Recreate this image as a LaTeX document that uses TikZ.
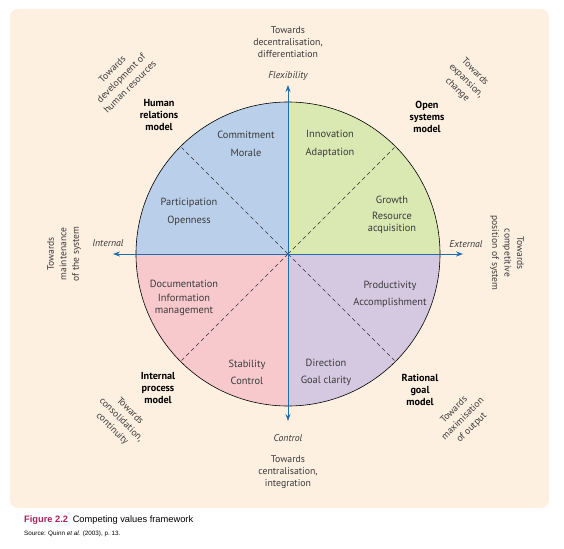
\documentclass[tikz,border=0pt]{standalone}
\usepackage{fontspec}
\setmainfont{PT Sans}
\newfontfamily\capfont{Liberation Sans}
\usetikzlibrary{arrows.meta}
\definecolor{panel}{HTML}{FDF0E1}
\definecolor{qblue}{HTML}{B9CFEA}
\definecolor{qgreen}{HTML}{DAE8B2}
\definecolor{qpink}{HTML}{F7C9CD}
\definecolor{qpurple}{HTML}{D5C9E2}
\definecolor{axisblue}{HTML}{1E6DAE}
\definecolor{figred}{HTML}{A8235F}
\definecolor{txt}{HTML}{3A3A3A}
\tikzset{
  lab/.style={font=\fontsize{10.4}{12.5}\selectfont, text=txt, align=center, inner sep=0pt},
  lab2/.style={font=\fontsize{10.4}{18}\selectfont, text=txt, align=center, inner sep=0pt},
  axlab/.style={font=\fontsize{9.8}{11}\selectfont\itshape, text=txt, inner sep=0pt},
  dir/.style={font=\fontsize{9.8}{12}\selectfont, text=txt, align=center, inner sep=0pt},
  rdir/.style={font=\fontsize{9.6}{12.5}\selectfont, text=txt, align=center, inner sep=0pt},
  model/.style={font=\fontsize{10.2}{12}\selectfont\bfseries, text=black, align=center, inner sep=0pt},
  axisline/.style={draw=axisblue, line width=0.9pt, {Stealth[length=7pt,width=5pt]}-{Stealth[length=7pt,width=5pt]}},
  divider/.style={draw=black!80, line width=0.6pt, dash pattern=on 4pt off 3pt}
}
\begin{document}
\begin{tikzpicture}[x=1pt,y=-1pt]
\useasboundingbox (0,0) rectangle (564,548);
\fill[white] (0,0) rectangle (564,548);
\fill[panel, rounded corners=8pt] (10,9) rectangle (549,508);
% quadrants
\coordinate (c) at (288,254);
\begin{scope}
\clip (c) circle (152);
\fill[qblue] (c) rectangle ++(-160,-160);
\fill[qgreen] (c) rectangle ++(160,-160);
\fill[qpink] (c) rectangle ++(-160,160);
\fill[qpurple] (c) rectangle ++(160,160);
\end{scope}
\draw[black, line width=0.6pt] (c) circle (152);
% dashed dividers
\coordinate (dTL) at (181.5,147.5);
\coordinate (dTR) at (394.5,147.5);
\coordinate (dBL) at (181.5,360.5);
\coordinate (dBR) at (394.5,360.5);
\draw[divider] (c) -- (dTL);
\draw[divider] (c) -- (dTR);
\draw[divider] (c) -- (dBL);
\draw[divider] (c) -- (dBR);
% axes
\coordinate (aT) at (288,85);
\coordinate (aB) at (288,421);
\coordinate (aL) at (113,254);
\coordinate (aR) at (463,254);
\draw[axisline] (aB) -- (aT);
\draw[axisline] (aL) -- (aR);
% axis labels
\node[axlab] (flex) at (288,76) {Flexibility};
\node[axlab] (ctrl) at (288,438) {Control};
\node[axlab] (int) at (108,243) {Internal};
\node[axlab] (ext) at (466,244) {External};
% directions
\node[dir] (dTop) at (288,42) {Towards\\decentralisation,\\differentiation};
\node[dir] (dBot) at (288,472) {Towards\\centralisation,\\integration};
\node[rdir, rotate=90] (dLeft) at (64,254) {Towards\\maintenance\\of the system};
\node[rdir, rotate=-90] (dRight) at (507,253) {Towards\\competitive\\position of system};
\node[rdir, rotate=45] (dTL2) at (121,78) {Towards\\development of\\human resources};
\node[rdir, rotate=-45] (dTR2) at (466,81) {Towards\\expansion,\\change};
\node[rdir, rotate=-45] (dBL2) at (121,420) {Towards\\consolidation,\\continuity};
\node[rdir, rotate=45] (dBR2) at (463,419) {Towards\\maximisation\\of output};
% models
\node[model] (hr) at (159,115) {Human\\relations\\model};
\node[model] (os) at (427,117) {Open\\systems\\model};
\node[model] (ip) at (158,388) {Internal\\process\\model};
\node[model] (rg) at (420,390) {Rational\\goal\\model};
% quadrant values
\node[lab2] (q1) at (246,144) {Commitment\\Morale};
\node[lab2] (q2) at (330,144) {Innovation\\Adaptation};
\node[lab2] (q3) at (189,212) {Participation\\Openness};
\node[lab] (q4) at (392,215) {Growth\\[3pt]Resource\\acquisition};
\node[lab] (q5) at (184,298) {Documentation\\[1.5pt]Information\\management};
\node[lab2, font=\fontsize{10.4}{17}\selectfont] (q6) at (390,294) {Productivity\\Accomplishment};
\node[lab2, font=\fontsize{10.4}{17}\selectfont] (q7) at (247,372) {Stability\\Control};
\node[lab2, font=\fontsize{10.4}{17}\selectfont] (q8) at (326,372) {Direction\\Goal clarity};
% caption
\node[anchor=base west, inner sep=0pt, font=\capfont\fontsize{9.3}{11}\selectfont] (cap) at (24,522) {\textcolor{figred}{\textbf{Figure 2.2}}\enspace Competing values framework};
\node[anchor=base west, inner sep=0pt, font=\capfont\fontsize{6.3}{7}\selectfont] (src) at (24,535) {Source: Quinn \textit{et al.} (2003), p.\ 13.};
\end{tikzpicture}
\end{document}
